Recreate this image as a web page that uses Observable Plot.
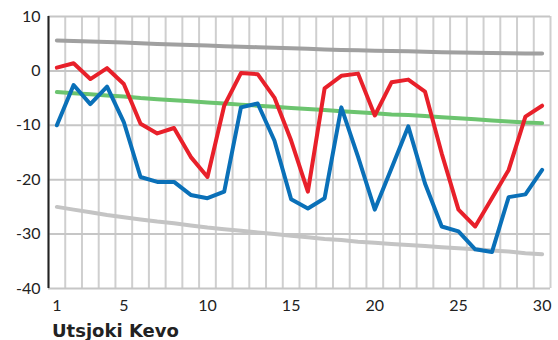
<!DOCTYPE html>
<html><head><meta charset="utf-8">
<script src="https://cdn.jsdelivr.net/npm/d3@7"></script>
<script src="https://cdn.jsdelivr.net/npm/@observablehq/plot@0.6"></script>
<style>
body{margin:0;background:#fff;font-family:Lato,sans-serif;}
#wrap{position:relative;width:558px;height:340px;overflow:hidden;}
#title{position:absolute;left:52px;top:320px;font:700 18px "DejaVu Sans",sans-serif;color:#222;line-height:22px;}
</style></head><body><div id="wrap"><div id="chart"></div><div id="title">Utsjoki Kevo</div></div>
<script>
const days = [1,2,3,4,5,6,7,8,9,10,11,12,13,14,15,16,17,18,19,20,21,22,23,24,25,26,27,28,29,30];
const xTicks = [1,5,10,15,20,25,30];
const yTicks = [10,0,-10,-20,-30,-40];
const dailyMax = [0.6,1.4,-1.5,0.5,-2.4,-9.7,-11.5,-10.5,-15.8,-19.5,-6.4,-0.4,-0.6,-4.9,-12.8,-22.2,-3.2,-0.9,-0.5,-8.2,-2.1,-1.6,-3.8,-15.2,-25.5,-28.6,-23.4,-18.2,-8.4,-6.4];
const dailyMin = [-10.0,-2.6,-6.1,-2.9,-9.4,-19.5,-20.4,-20.4,-22.8,-23.4,-22.2,-6.7,-6.0,-12.8,-23.6,-25.3,-23.4,-6.7,-15.8,-25.5,-17.9,-10.2,-20.7,-28.6,-29.5,-32.8,-33.3,-23.2,-22.7,-18.2];
const normalMean = [-3.9,-4.1,-4.3,-4.5,-4.7,-5.0,-5.2,-5.4,-5.6,-5.8,-6.0,-6.2,-6.4,-6.6,-6.8,-7.0,-7.2,-7.4,-7.6,-7.8,-8.0,-8.1,-8.3,-8.5,-8.7,-8.9,-9.1,-9.3,-9.5,-9.6];
const upperCurve = [5.6,5.5,5.4,5.3,5.2,5.1,4.95,4.85,4.75,4.65,4.55,4.45,4.35,4.25,4.15,4.05,3.95,3.85,3.8,3.7,3.65,3.6,3.5,3.45,3.4,3.35,3.3,3.25,3.2,3.2];
const lowerCurve = [-25.0,-25.5,-26.0,-26.5,-26.9,-27.3,-27.7,-28.0,-28.4,-28.8,-29.1,-29.4,-29.7,-30.0,-30.3,-30.6,-30.9,-31.1,-31.4,-31.6,-31.8,-32.0,-32.2,-32.4,-32.6,-32.8,-33.0,-33.2,-33.5,-33.7];

const rows = vals => days.map((d, i) => ({day: d, value: vals[i]}));
const gridX = [days[0] - 0.5, ...days.map(d => d + 0.5)];

const plot = Plot.plot({
  width: 558, height: 314,
  marginLeft: 48, marginRight: 8, marginTop: 16, marginBottom: 26,
  x: {domain: [days[0] - 0.5, days[days.length - 1] + 0.5]},
  y: {domain: [-40, 10]},
  style: {fontFamily: "Lato, sans-serif", fontSize: "16px", color: "#222", background: "#fff"},
  marks: [
    Plot.ruleX(gridX, {stroke: "#cfcfcf", strokeWidth: 2}),
    Plot.ruleY(yTicks, {stroke: "#c6c6c6", strokeWidth: 2}),
    Plot.ruleX([days[0] - 0.5], {stroke: "#222", strokeWidth: 2}),
    Plot.line(rows(upperCurve), {x: "day", y: "value", stroke: "#a0a0a0", strokeWidth: 4}),
    Plot.line(rows(lowerCurve), {x: "day", y: "value", stroke: "#c4c4c4", strokeWidth: 4}),
    Plot.line(rows(normalMean), {x: "day", y: "value", stroke: "#6cc46f", strokeWidth: 4}),
    Plot.line(rows(dailyMin), {x: "day", y: "value", stroke: "#0a70b8", strokeWidth: 4}),
    Plot.line(rows(dailyMax), {x: "day", y: "value", stroke: "#e8202a", strokeWidth: 4}),
    Plot.axisX(xTicks, {tickSize: 0, tickPadding: 11, label: null, fontSize: 16, tickFormat: d => String(d)}),
    Plot.axisY(yTicks, {tickSize: 0, tickPadding: 8, label: null, fontSize: 16, tickFormat: d => String(d)})
  ]
});
document.getElementById("chart").appendChild(plot);
</script></body></html>
